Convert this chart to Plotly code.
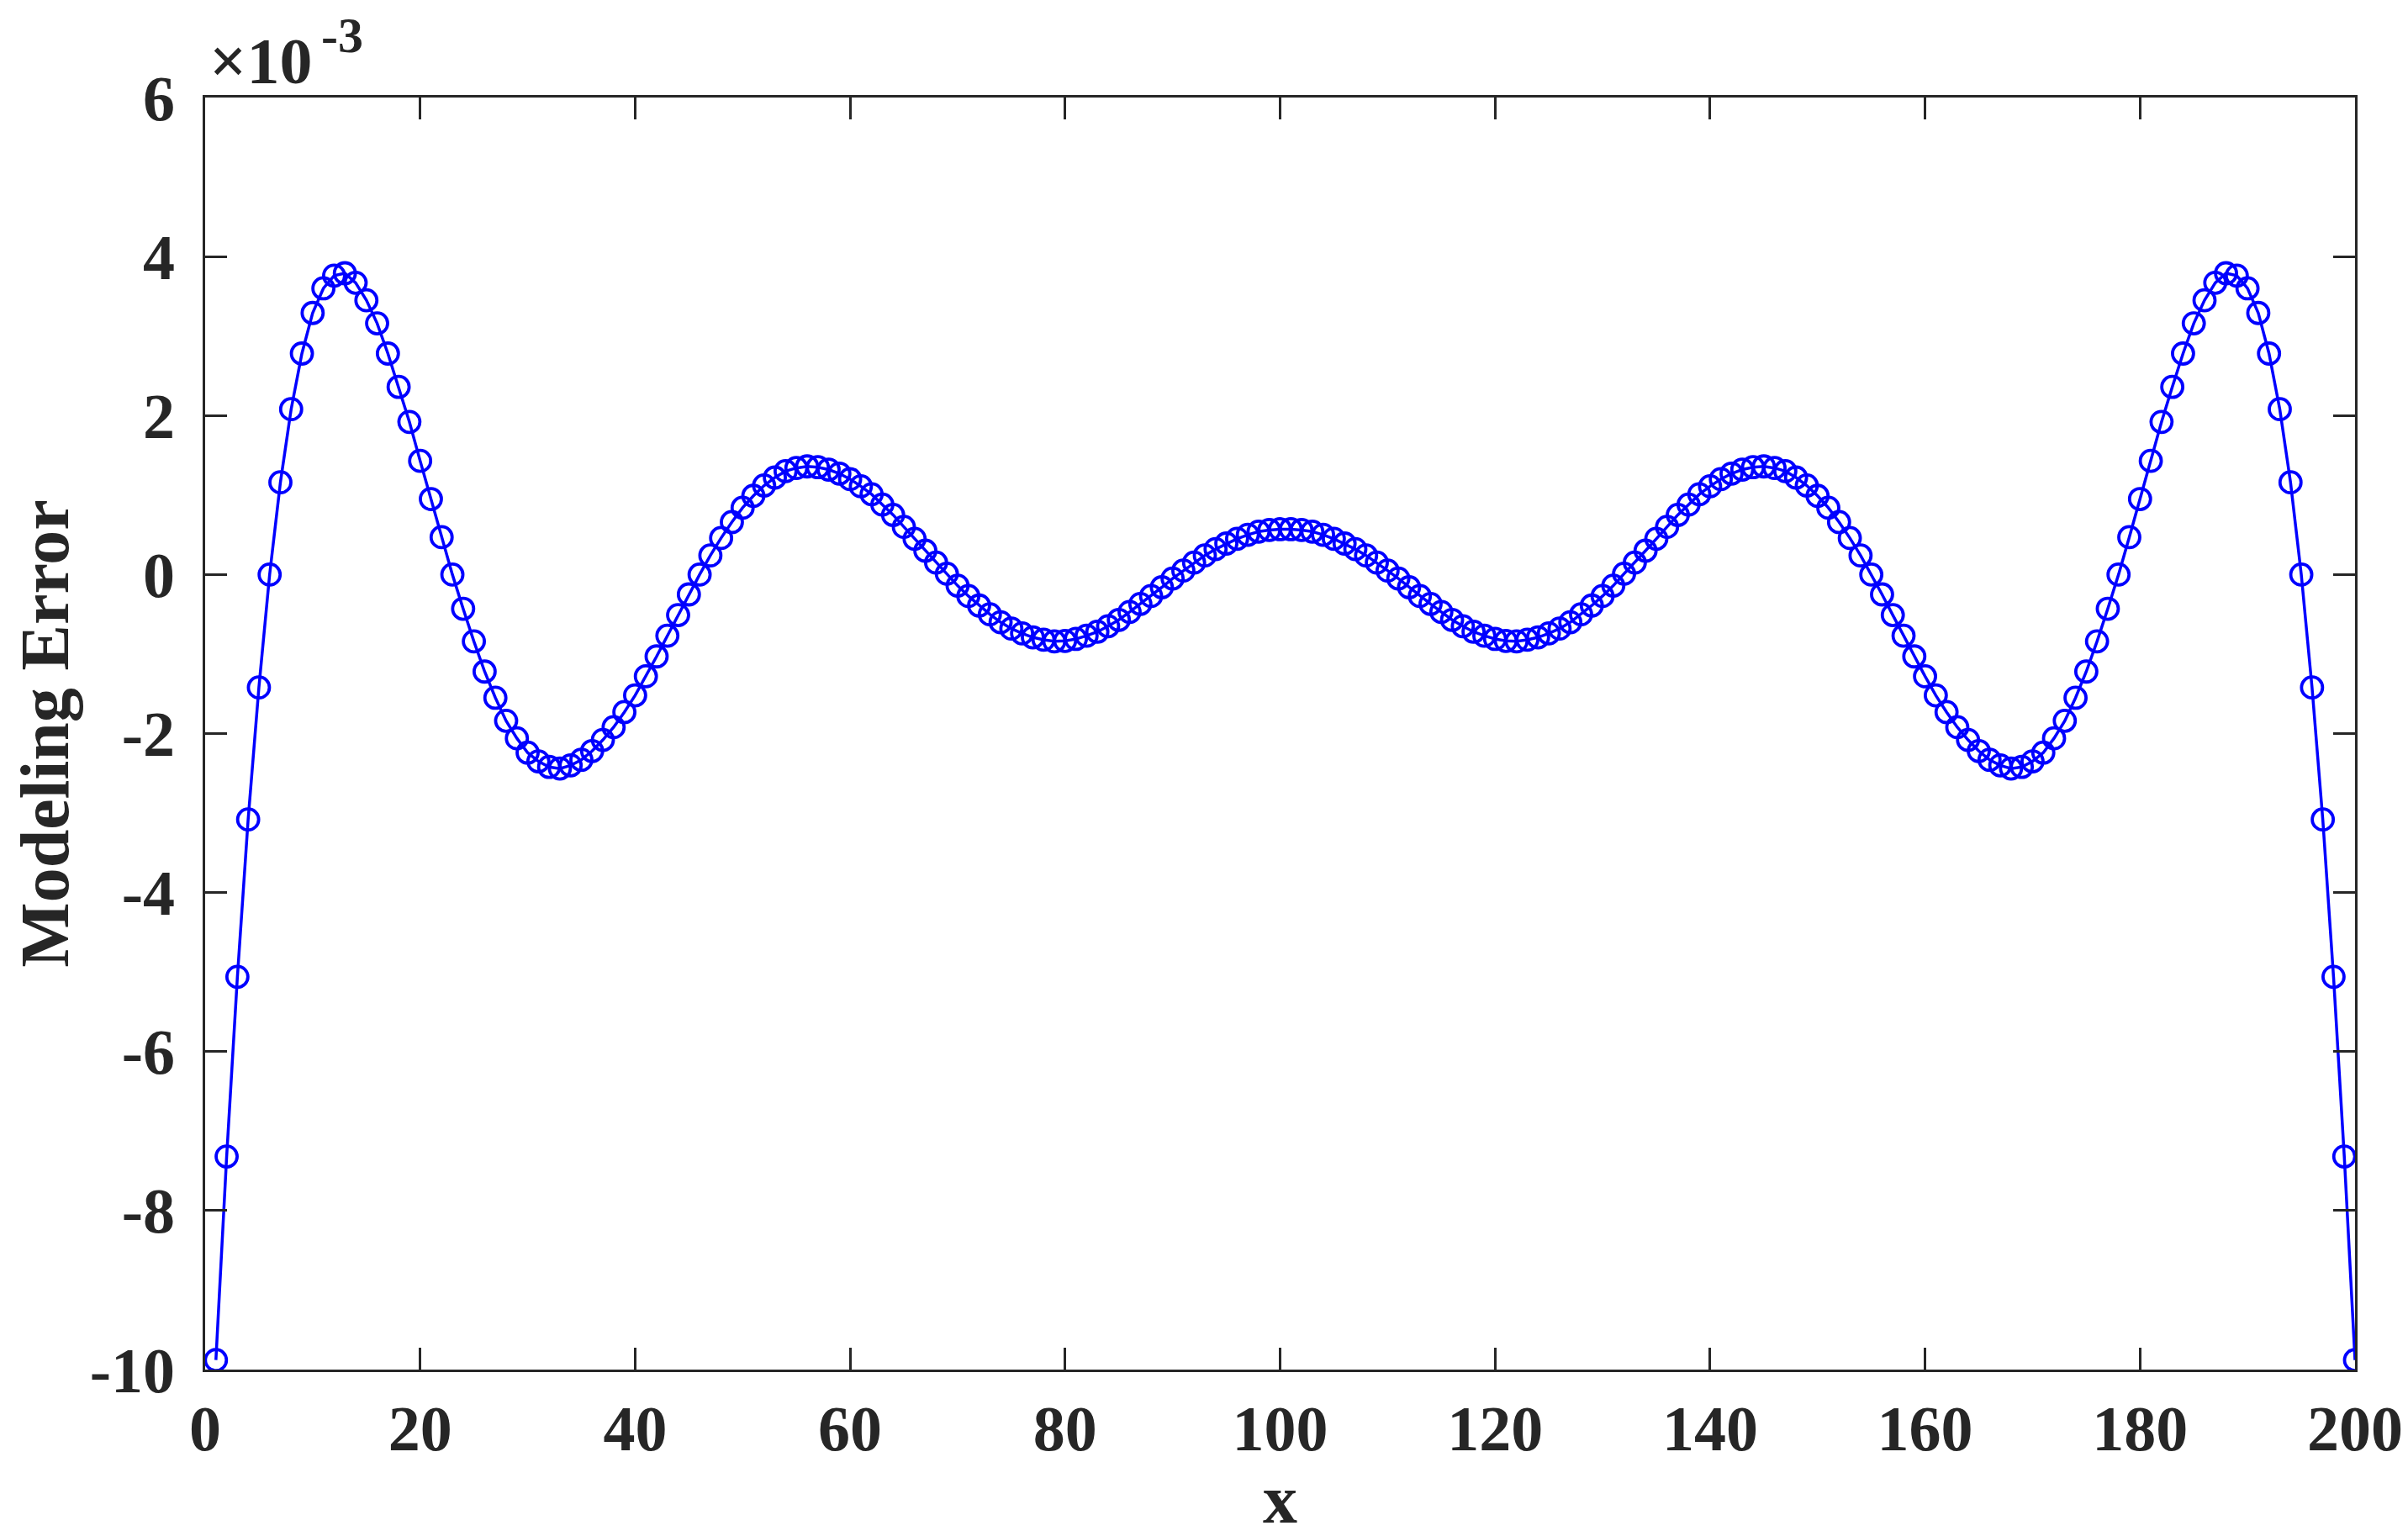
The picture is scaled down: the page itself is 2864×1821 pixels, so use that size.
import plotly.graph_objects as go

# x positions
x_values = list(range(1, 201))

# Modeling error, in units of 1e-3 (axis shows a x10^-3 multiplier)
error_e3 = [
    -9.88, -7.32, -5.06, -3.08, -1.42, 0.00, 1.16, 2.08, 2.78, 3.29,
    3.60, 3.76, 3.79, 3.67, 3.45, 3.16, 2.78, 2.36, 1.92, 1.43,
    0.95, 0.47, 0.00, -0.43, -0.84, -1.22, -1.55, -1.84, -2.06, -2.24,
    -2.35, -2.42, -2.44, -2.40, -2.33, -2.22, -2.08, -1.92, -1.73, -1.52,
    -1.28, -1.03, -0.77, -0.51, -0.25, 0.00, 0.24, 0.46, 0.66, 0.84,
    0.99, 1.12, 1.22, 1.30, 1.34, 1.36, 1.35, 1.32, 1.27, 1.20,
    1.11, 1.01, 0.88, 0.75, 0.60, 0.45, 0.30, 0.15, 0.01, -0.14,
    -0.27, -0.39, -0.50, -0.60, -0.68, -0.74, -0.79, -0.82, -0.84, -0.835,
    -0.81, -0.77, -0.72, -0.65, -0.57, -0.47, -0.37, -0.27, -0.16, -0.05,
    0.05, 0.15, 0.24, 0.32, 0.39, 0.45, 0.50, 0.54, 0.56, 0.57,
    0.57, 0.56, 0.54, 0.50, 0.45, 0.39, 0.32, 0.24, 0.15, 0.05,
    -0.05, -0.16, -0.27, -0.37, -0.47, -0.57, -0.65, -0.72, -0.77, -0.81,
    -0.835, -0.84, -0.82, -0.79, -0.74, -0.68, -0.60, -0.50, -0.39, -0.27,
    -0.14, 0.01, 0.15, 0.30, 0.45, 0.60, 0.75, 0.88, 1.01, 1.11,
    1.20, 1.27, 1.32, 1.35, 1.36, 1.34, 1.30, 1.22, 1.12, 0.99,
    0.84, 0.66, 0.46, 0.24, 0.00, -0.25, -0.51, -0.77, -1.03, -1.28,
    -1.52, -1.73, -1.92, -2.08, -2.22, -2.33, -2.40, -2.44, -2.42, -2.35,
    -2.24, -2.06, -1.84, -1.55, -1.22, -0.84, -0.43, 0.00, 0.47, 0.95,
    1.43, 1.92, 2.36, 2.78, 3.16, 3.45, 3.67, 3.79, 3.76, 3.60,
    3.29, 2.78, 2.08, 1.16, 0.00, -1.42, -3.08, -5.06, -7.32, -9.88,
]

x_ticks = [0, 20, 40, 60, 80, 100, 120, 140, 160, 180, 200]
y_ticks = [-10, -8, -6, -4, -2, 0, 2, 4, 6]

FONT = "Liberation Serif, Times New Roman, serif"
INK = "#262626"
BLUE = "#0000ff"

fig = go.Figure()
fig.add_trace(go.Scatter(
    x=x_values, y=error_e3,
    mode="lines+markers",
    line=dict(color=BLUE, width=3.5),
    marker=dict(symbol="circle-open", size=25, color=BLUE,
                line=dict(color=BLUE, width=3.8)),
    showlegend=False,
))

axis_common = dict(
    showgrid=False, zeroline=False, automargin=False,
    showline=True, linecolor=INK, linewidth=2.5,
    mirror="ticks", ticks="inside", ticklen=26, tickwidth=2.5, tickcolor=INK,
    tickfont=dict(family=FONT, size=76, color=INK, weight="bold"),
)

fig.update_xaxes(
    range=[0, 200], tickvals=x_ticks, ticktext=[str(v) for v in x_ticks],
    title=dict(text="x", font=dict(family=FONT, size=82, color=INK, weight="bold"),
               standoff=16),
    ticklabelstandoff=2,
    **axis_common,
)
fig.update_yaxes(
    range=[-10, 6], tickvals=y_ticks, ticktext=[str(v) for v in y_ticks],
    title=dict(text="Modeling Error",
               font=dict(family=FONT, size=82, color=INK, weight="bold"),
               standoff=20),
    ticklabelstandoff=18,
    **axis_common,
)

# MATLAB-style exponent label above the y axis
fig.add_annotation(
    xref="paper", yref="paper", x=0.001, y=1.029,
    xanchor="left", yanchor="middle",
    text="×10", showarrow=False,
    font=dict(family=FONT, size=78, color=INK, weight="bold"),
)
fig.add_annotation(
    xref="paper", yref="paper", x=0.053, y=1.049,
    xanchor="left", yanchor="middle",
    text="-3", showarrow=False,
    font=dict(family=FONT, size=60, color=INK, weight="bold"),
)

fig.update_layout(
    width=2864, height=1821,
    margin=dict(l=236, r=71, t=108, b=200),
    paper_bgcolor="white", plot_bgcolor="white",
)

fig.write_html("out.html")
